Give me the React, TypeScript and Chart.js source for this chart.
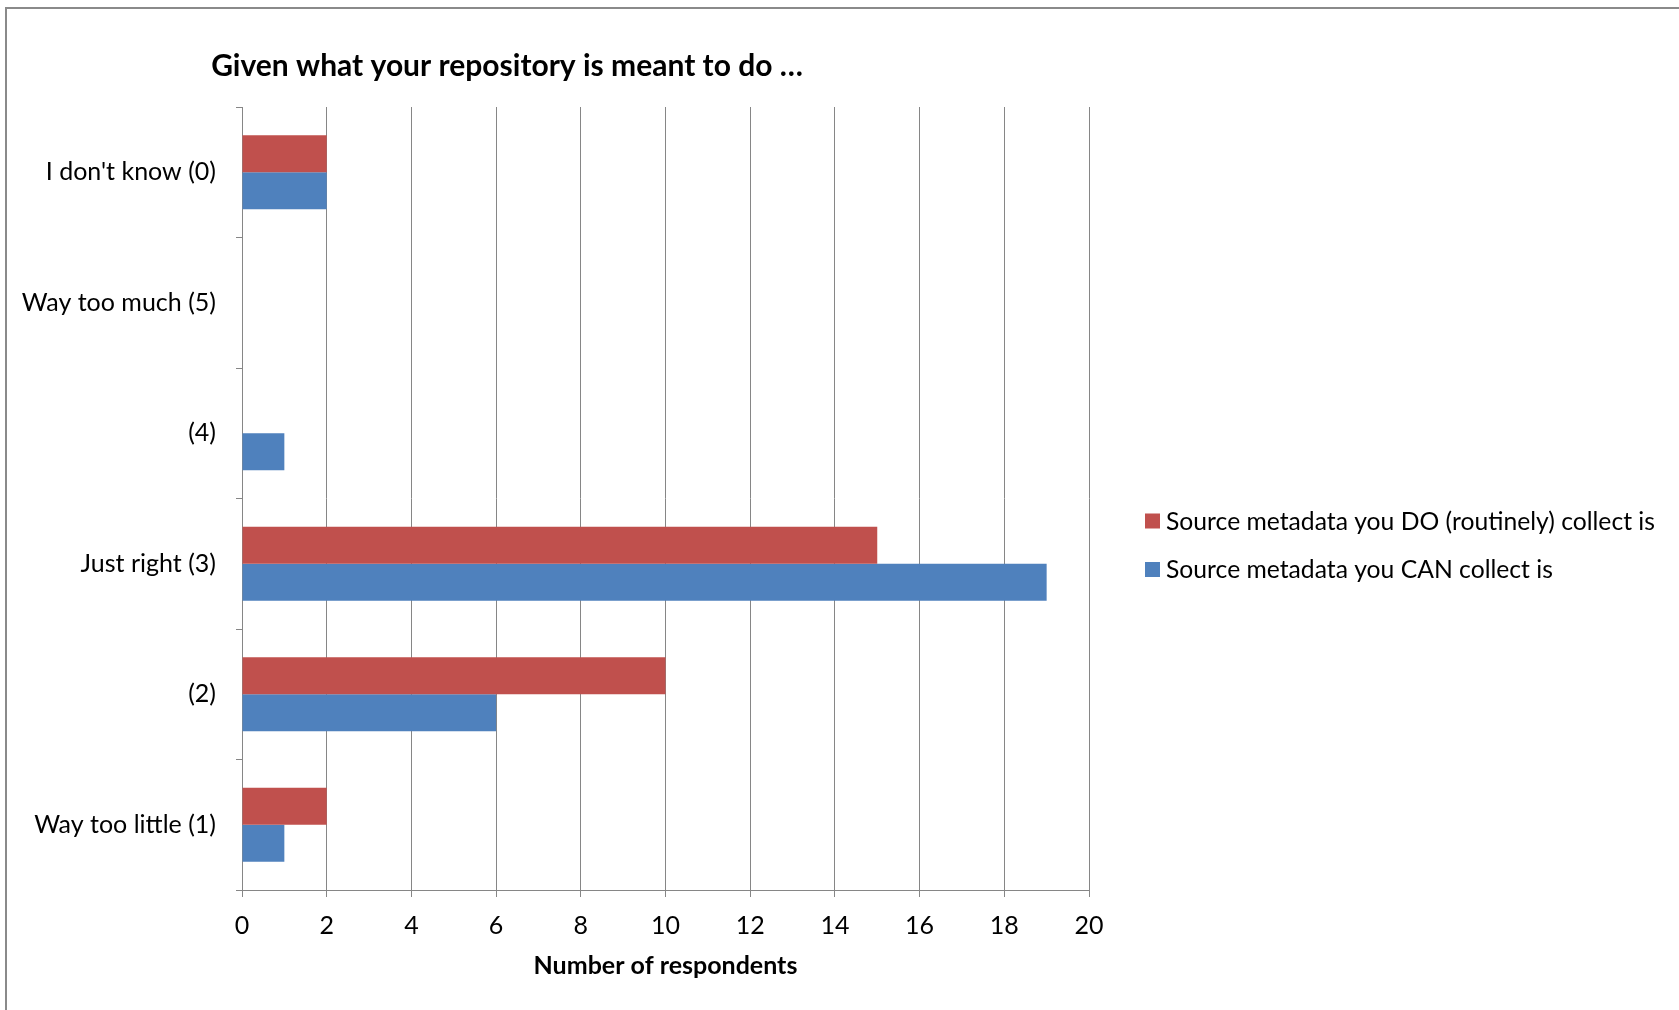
import { useEffect, useRef } from "react";
import { Chart, registerables } from "chart.js";

Chart.register(...registerables);

// Survey answers, top to bottom
const categories = [
  "I don't know (0)",
  "Way too much (5)",
  "(4)",
  "Just right (3)",
  "(2)",
  "Way too little (1)",
];

// Respondent counts per answer
const doCollectCounts = [2, 0, 0, 15, 10, 2];
const canCollectCounts = [2, 0, 1, 19, 6, 1];

const seriesNames = [
  "Source metadata you DO (routinely) collect is",
  "Source metadata you CAN collect is",
];
const seriesColors = ["#C0504D", "#4F81BD"];

const xMin = 0;
const xMax = 20;
const xStep = 2;

const chartTitle = "Given what your repository is meant to do …";
const xAxisTitle = "Number of respondents";

const FONT = "Lato";
const GRID = "#868686";

// White page with the chart frame (only its top and left edges fall inside the canvas)
const framePlugin = {
  id: "frame",
  beforeDraw(chart: Chart) {
    const { ctx, width, height } = chart;
    ctx.save();
    ctx.fillStyle = "#ffffff";
    ctx.fillRect(0, 0, width, height);
    ctx.strokeStyle = "#8a8a8a";
    ctx.lineWidth = 2;
    ctx.beginPath();
    ctx.moveTo(6, height + 5);
    ctx.lineTo(6, 8);
    ctx.lineTo(width + 5, 8);
    ctx.stroke();
    ctx.restore();
  },
};

// Chart heading
const headingPlugin = {
  id: "heading",
  afterDraw(chart: Chart) {
    const { ctx } = chart;
    ctx.save();
    ctx.font = `bold 30px ${FONT}`;
    ctx.fillStyle = "#000000";
    ctx.textAlign = "center";
    ctx.textBaseline = "middle";
    ctx.fillText(chartTitle, 507, 66);
    ctx.restore();
  },
};

// Series key to the right of the plot
const keyPlugin = {
  id: "seriesKey",
  afterDraw(chart: Chart) {
    const { ctx } = chart;
    ctx.save();
    ctx.font = `24.7px ${FONT}`;
    ctx.textAlign = "left";
    ctx.textBaseline = "middle";
    chart.data.datasets.forEach((ds, i) => {
      const y = 521 + i * 48.5;
      ctx.fillStyle = ds.backgroundColor as string;
      ctx.fillRect(1145, y - 7.5, 15, 15);
      ctx.fillStyle = "#000000";
      ctx.fillText(ds.label as string, 1166, y + 1);
    });
    ctx.restore();
  },
};

export default function App() {
  const canvasRef = useRef<HTMLCanvasElement | null>(null);

  useEffect(() => {
    if (!canvasRef.current) return;
    const chart = new Chart(canvasRef.current, {
      type: "bar",
      data: {
        labels: categories,
        datasets: [
          {
            label: seriesNames[0],
            data: doCollectCounts,
            backgroundColor: seriesColors[0],
            borderWidth: 0,
          },
          {
            label: seriesNames[1],
            data: canCollectCounts,
            backgroundColor: seriesColors[1],
            borderWidth: 0,
          },
        ],
      },
      options: {
        indexAxis: "y",
        responsive: false,
        animation: false,
        devicePixelRatio: 1,
        layout: { padding: { top: 107, right: 590, bottom: 0, left: 0 } },
        datasets: {
          bar: { categoryPercentage: 0.567, barPercentage: 1 },
        },
        plugins: {
          legend: { display: false },
          title: { display: false },
          tooltip: { enabled: false },
        },
        scales: {
          y: {
            type: "category",
            offset: true,
            grid: {
              offset: true,
              drawOnChartArea: false,
              drawTicks: true,
              tickLength: 6,
              color: GRID,
            },
            border: { display: true, color: GRID, width: 1 },
            ticks: {
              color: "#000000",
              font: { family: FONT, size: 25 },
              padding: 20,
            },
            afterFit(scale: any) {
              scale.width = 242;
            },
          },
          x: {
            type: "linear",
            min: xMin,
            max: xMax,
            grid: { color: GRID, tickLength: 7, drawTicks: true },
            border: { display: true, color: GRID, width: 1 },
            ticks: {
              stepSize: xStep,
              color: "#000000",
              font: { family: FONT, size: 25 },
              padding: 14,
              maxRotation: 0,
            },
            title: {
              display: true,
              text: xAxisTitle,
              color: "#000000",
              font: { family: FONT, size: 25, weight: "bold" },
              padding: { top: 0, bottom: 29 },
            },
            afterFit(scale: any) {
              scale.height = 120;
            },
          },
        },
      },
      plugins: [framePlugin, headingPlugin, keyPlugin],
    });
    return () => chart.destroy();
  }, []);

  return (
    <div style={{ position: "absolute", left: 0, top: 0, width: 1679, height: 1010 }}>
      <canvas ref={canvasRef} width={1679} height={1010} />
    </div>
  );
}
